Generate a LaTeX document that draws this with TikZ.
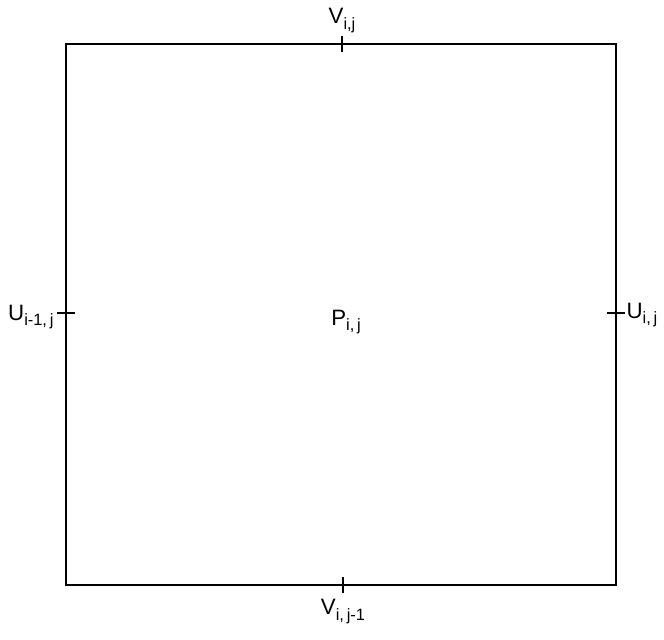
\documentclass[tikz,border=0pt]{standalone}
\usepackage{fontspec}
\setmainfont{Liberation Sans}
\usetikzlibrary{calc}
\newcommand{\subidx}[1]{\raisebox{-0.5ex}{\fontsize{14}{15}\selectfont #1}}

\begin{document}
\begin{tikzpicture}[x=0.03cm,y=-0.03cm,
  lbl/.style={font=\fontsize{19}{22}\selectfont,inner sep=0pt},
  edge/.style={line width=1.9pt}]
\useasboundingbox (0,0) rectangle (664,640);
% cell boundary
\coordinate (nw) at (66,44);
\coordinate (se) at (616,585);
\draw[edge] (nw) rectangle (se);
% face ticks
\coordinate (top) at (342,44);
\coordinate (bot) at (343,585);
\coordinate (lft) at (66,313);
\coordinate (rgt) at (616,313);
\draw[edge] ($(top)+(0,-8)$)--($(top)+(0,8)$);
\draw[edge] ($(bot)+(0,-8)$)--($(bot)+(0,8)$);
\draw[edge] ($(lft)+(-9,0)$)--($(lft)+(9,0)$);
\draw[edge] ($(rgt)+(-9,0)$)--($(rgt)+(9,0)$);
% labels
\node[lbl,above=9pt] (vtop) at (top) {V\subidx{i,j}};
\node[lbl,below=12pt] (vbot) at (bot) {V\subidx{i,\,j-1}};
\node[lbl,left=2pt] (ulft) at ($(lft)+(-10,4)$) {U\subidx{i-1,\,j}};
\node[lbl,right=2pt] (urgt) at ($(rgt)+(8,2)$) {U\subidx{i,\,j}};
\node[lbl] (pc) at (346,322) {P\subidx{i,\,j}};
\end{tikzpicture}
\end{document}
